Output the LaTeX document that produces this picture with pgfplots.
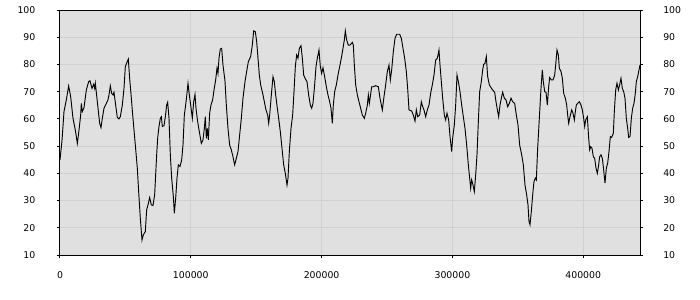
\documentclass[border=0pt]{standalone}
\usepackage{fontspec}
\setmainfont{DejaVu Sans}
\usepackage{pgfplots}
\pgfplotsset{compat=1.18}
\definecolor{bg}{HTML}{E0E0E0}
\definecolor{gridc}{HTML}{D0D0D0}
\begin{document}
\begin{tikzpicture}[x=1pt,y=1pt]
\useasboundingbox (-45,-33.75) rectangle (480,191.25);
\pgfplotsset{common/.style={scale only axis, width=435pt, height=183.75pt,
  xmin=0, xmax=443400, ymin=10, ymax=100,
  ytick={10,20,...,100}, xtick={0,100000,200000,300000,400000},
  scaled x ticks=false, tick align=outside, major tick length=2.25pt,
  tick style={black, line width=0.75pt},
  ticklabel style={font=\fontsize{7}{8}\selectfont},
  /pgf/number format/fixed, /pgf/number format/precision=0,
  /pgf/number format/assume math mode=true,
  /pgf/number format/set thousands separator={},
  axis line style={line width=0.75pt},
  anchor=south west, at={(0,0)}}}
\begin{axis}[common,
  axis background/.style={fill=bg},
  grid=major, major grid style={gridc, line width=0.75pt},
  xtick pos=bottom, ytick pos=left,
  yticklabel shift=12.7pt,
  xticklabel style={yshift=-6.5pt}]
\addplot[black, line width=0.7pt, mark=none] coordinates {
(0,45) (1530,52) (3058,62.7) (4841,67) (6625,72.1) (8153,68.2) (9937,60.2) (11721,55.9) (13250,51) (14524,55.9)
(15797,61.4) (16307,65.7) (17071,62.7) (18345,64.1) (20129,70.6) (21913,73.7) (22932,74) (24461,71.2) (25735,72.7) (26499,71.2)
(27009,73.1) (28537,66.3) (30321,58.4) (31340,56.8) (32360,60.2) (33634,63.9) (35417,65.7) (36691,67) (37456,68.8) (38475,72.1)
(39494,69.4) (40513,68.8) (41277,69.8) (42551,65.1) (43825,60.5) (45099,60) (46118,60.8) (47647,65.1) (48921,71.2) (49941,79.2)
(51215,80.8) (52234,82) (53253,74.9) (54527,67.6) (55801,60.2) (57585,50.4) (59114,41.9) (60133,33.3) (61407,23.5) (62681,15.5)
(63700,17.4) (65229,18.6) (66248,26.6) (67267,28.4) (68541,31.1) (69815,28.4) (71089,28.2) (72363,32.1) (73902,46.8) (74666,52.9)
(75686,57.2) (76705,60.2) (77469,60.8) (78234,57.2) (79508,57.5) (80527,60.8) (81546,65.1) (82310,66.1) (83330,60.2) (84349,46.8)
(85368,38.2) (86642,31.5) (87406,25.3) (88426,30.8) (89445,38.2) (90464,43.1) (91738,42.5) (93012,44.9) (94031,50.4) (95050,61.4)
(96070,65.1) (97089,69.4) (97853,73.1) (98872,68.8) (99892,65.1) (101166,60.2) (102185,66.3) (103204,69) (103968,63.9) (105242,59)
(106516,55.3) (108045,51) (109319,52.3) (110338,56.5) (111103,60.8) (111867,52.9) (112632,56.5) (113396,52.3) (114415,62.1) (115434,65.1)
(116708,67) (117728,70.6) (119002,74.3) (120021,78.6) (120785,76.7) (121550,82.3) (122569,85.7) (123588,85.9) (124607,79.8) (126136,73.9)
(127155,65.1) (128429,56.5) (129703,50.4) (130977,48.6) (132251,46.1) (133525,43.1) (134799,45.5) (136073,48) (137347,54.1) (138621,60.2)
(139895,67.6) (141424,73.7) (142698,77.4) (143972,81) (145756,82.9) (147030,87.1) (148058,92.3) (149332,92) (150351,88.4) (151370,82.3)
(152390,76.1) (153409,72.5) (154938,69.4) (156212,66.3) (157486,63.3) (158760,61.4) (159524,58.4) (160288,61.4) (161562,68.8) (162836,75.5)
(163856,73.7) (164875,68.8) (166149,63.9) (167168,60.2) (168442,55.3) (169716,49.2) (170990,43.1) (172264,40) (173538,35.7) (174302,38.2)
(175322,48) (176596,56.5) (177870,61.4) (178889,70) (179908,79.2) (180927,83.5) (181946,82.3) (182966,85.9) (184240,86.9) (185259,82.3)
(186278,76.1) (187552,74.7) (188826,73.7) (190100,68.8) (191374,65.1) (192393,63.9) (193412,65.7) (194686,72.5) (195706,79.2) (196725,82.3)
(197999,85.3) (199018,79.2) (200037,76.7) (201056,78.8) (202330,75.5) (203604,71.8) (204878,68.8) (206152,66.3) (207172,63.9) (208191,58.4)
(208955,65.1) (209974,70) (211248,72.5) (212522,76.1) (213796,79.2) (215070,82.3) (216344,85.9) (217364,89) (218128,92.3) (219147,89)
(220421,87.1) (221695,87.1) (223489,88.1) (224253,87.1) (225018,79.8) (226037,72.5) (227311,68.8) (228585,66.3) (229859,63.9) (231133,61.4)
(232662,60.2) (233681,62.1) (234955,65.1) (235719,68.8) (236484,65.7) (237248,68.2) (238267,71.8) (239541,71.8) (241325,72.2) (243363,71.8)
(244637,67.6) (246421,63.3) (247695,68.2) (248969,72.5) (250243,77.4) (251517,79.8) (252536,74.3) (253555,78) (254829,84.7) (256103,89.6)
(257377,91.1) (259671,91.1) (260945,89.6) (262219,85.9) (263493,82.3) (264767,77.4) (265786,71.2) (266805,63.3) (268843,62.9) (270117,61.4)
(271391,59.2) (272411,63.3) (273430,60.8) (274958,61.4) (276232,66.3) (277252,64.5) (278271,63.3) (279545,60.8) (280819,63.3) (282093,65.1)
(283367,69.4) (284641,72.5) (285915,76.1) (287189,81.6) (288463,82.3) (289737,85.3) (290501,79.8) (291520,73.7) (292540,67.6) (293814,61.4)
(294833,59.6) (295852,62.1) (297135,59.6) (298155,53.5) (299429,48) (300193,52.9) (301467,57.8) (302486,65.1) (303505,76.1) (304525,73.7)
(305799,70) (307073,65.1) (308347,60.8) (309621,56.5) (310895,50.4) (312169,43.1) (313188,38.2) (313952,34.5) (314717,37.6) (315736,35.7)
(316755,33.3) (317774,39.4) (318793,46.8) (319813,59) (320832,70) (322106,73.7) (323125,78) (323889,80) (324909,80.4) (325928,82.9)
(326947,75.5) (328221,72.5) (329495,71.5) (330769,70.6) (332298,69.8) (333317,66.3) (334591,62.7) (335355,60.8) (336375,65.1) (337394,67.6)
(338413,69.8) (339687,67.6) (340961,67) (342235,64.5) (343509,65.7) (344783,67.6) (346057,66.3) (347586,65.7) (348860,61.4) (350134,57.8)
(351408,50.4) (352937,46.8) (354211,43.1) (355485,35.7) (356759,32.1) (357778,28.4) (358542,22.3) (359307,21.1) (360326,26) (361345,32.1)
(362364,37) (363383,38.2) (364148,37.6) (365167,49.2) (366441,60.2) (367715,71.2) (368734,78) (369499,73.7) (370528,70) (371547,69.8)
(372566,65.1) (373586,71.8) (374350,75.2) (375624,74.3) (376898,74.3) (378172,76.1) (378936,79.8) (379956,85.3) (380975,83.5) (381739,78.6)
(383013,77.4) (384032,74.9) (385052,69.4) (386326,67.6) (387345,65.1) (388109,61.4) (388874,58.4) (389893,60.8) (391167,63.3) (392186,62.1)
(393205,59.6) (393970,62.7) (394734,65.1) (395753,65.7) (397027,66.3) (398301,65.1) (399320,63.3) (400340,60.2) (401104,57.2) (401868,59.6)
(403142,60.8) (404162,52.9) (404926,48.6) (405690,49.8) (406710,49.2) (407729,46.1) (408748,45.5) (409767,41.9) (410786,40) (411806,43.1)
(412570,46.1) (413589,46.8) (414608,45.5) (415628,41.3) (416647,36.4) (417666,41.9) (418685,43.7) (419704,48) (420724,53.5) (421743,53.2)
(423017,54.7) (423781,62.7) (424800,70.6) (425820,73.1) (426839,70.6) (427858,72.5) (428877,74.9) (429896,71.2) (430916,70) (431935,67.6)
(432954,60.2) (433973,56.5) (434738,53.2) (435757,53.5) (436776,60.2) (437795,63.9) (438815,65.7) (439834,69.4) (440598,73.7) (441617,75.5)
(442636,78) (443400,79.8)
};
\end{axis}
\begin{axis}[common,
  axis x line=none, axis y line*=right,
  ytick pos=right, yticklabel pos=right,
  yticklabel shift=11.7pt]
\addplot[draw=none] coordinates {(0,10)};
\end{axis}
\end{tikzpicture}
\end{document}
